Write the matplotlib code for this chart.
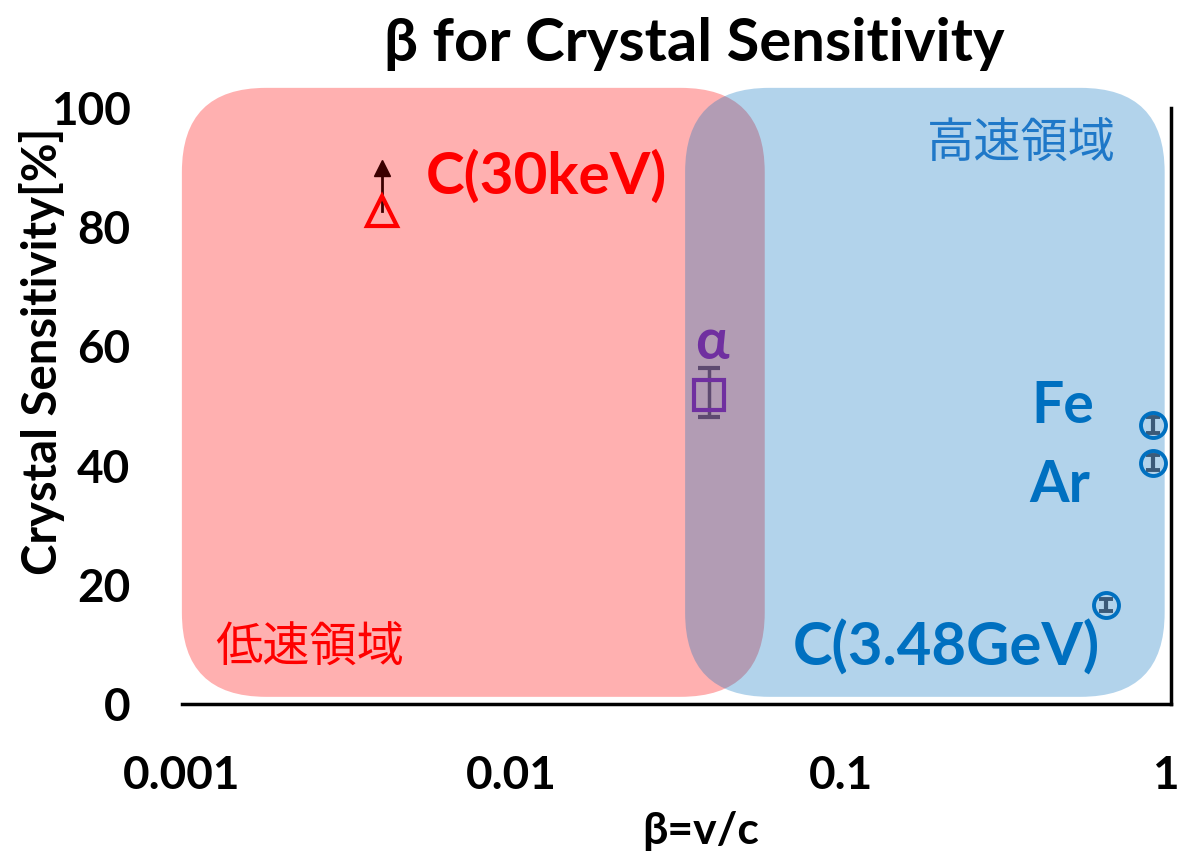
import numpy as np
import matplotlib
matplotlib.use('Agg')
import matplotlib.pyplot as plt
import matplotlib.transforms as mtransforms
from matplotlib.patches import FancyBboxPatch

plt.rcParams['font.family'] = ['Lato', 'Noto Sans CJK JP', 'DejaVu Sans']
FONT_SIZE = 33

# data
c30_beta = [0.00404]
c30_sens = [82.8]
c30_limit = [90.0]
alpha_beta = [0.0397]
alpha_sens = [51.8]
alpha_err = [[3.6], [4.6]]
fe_beta = [0.881]
fe_sens = [46.8]
ar_beta = [0.881]
ar_sens = [40.5]
heavy_err = [1.3]
c348_beta = [0.635]
c348_sens = [16.6]
c348_err = [1.0]

# speed regions (beta range, sensitivity range)
low_region = [0.001, 0.0586, 1.2, 103.4]
high_region = [0.0336, 0.957, 1.2, 103.4]

x_ticks = [0.001, 0.01, 0.1, 1]
x_tick_labels = ['0.001', '0.01', '0.1', '1']
y_ticks = [0, 20, 40, 60, 80, 100]

fig = plt.figure(figsize=(11.81, 8.58), dpi=100)
ax = fig.add_axes([0.154, 0.1795, 0.8375, 0.6945])
ax.set_xscale('log')
ax.set_xlim(0.001, 1)
ax.set_ylim(0, 100)


def region(ax, r, color, alpha):
    to_axes = ax.transData + ax.transAxes.inverted()
    (x0, y0), (x1, y1) = to_axes.transform([(r[0], r[2]), (r[1], r[3])])
    bb = ax.get_window_extent()
    aspect = bb.width / bb.height
    p = FancyBboxPatch((x0, y0), x1 - x0, y1 - y0,
                       boxstyle='round,pad=0,rounding_size=0.085',
                       mutation_aspect=aspect, transform=ax.transAxes,
                       facecolor=color, alpha=alpha, edgecolor='none',
                       clip_on=False, zorder=1)
    ax.add_patch(p)


region(ax, low_region, '#ff0000', 0.31)
region(ax, high_region, '#0070c0', 0.30)

# C(30keV) lower limit
ax.plot([c30_beta[0], c30_beta[0]], [c30_sens[0], c30_limit[0] - 1], color='#3b0000', lw=2, zorder=3)
ax.plot(c30_beta, c30_limit, '^', color='#3b0000', ms=11, zorder=3)
ax.plot(c30_beta, c30_sens, '^', mfc='none', mec='#ff0000', mew=3, ms=21, zorder=4)

# alpha
ax.errorbar(alpha_beta, alpha_sens, yerr=alpha_err, fmt='s', mfc='none', mec='#7030a0',
            mew=3, ms=21, ecolor='#5e4a70', elinewidth=2.5, capsize=8, capthick=2.5, zorder=4)

# heavy ions
for b, s, e in [(fe_beta, fe_sens, heavy_err), (ar_beta, ar_sens, heavy_err),
                (c348_beta, c348_sens, c348_err)]:
    ax.errorbar(b, s, yerr=e, fmt='o', mfc='none', mec='#0070c0', mew=2.8, ms=18,
                ecolor='#3b5a78', elinewidth=3, capsize=5, capthick=3, zorder=4)

ax.text(0.0055, 88.5, 'C(30keV)', color='#ff0000', fontsize=42, fontweight='bold', va='center', zorder=5)
ax.text(0.0405, 60.5, 'α', color='#7030a0', fontsize=40, fontweight='bold', ha='center', va='center', zorder=5)
ax.text(0.47, 50, 'Fe', color='#0070c0', fontsize=41, fontweight='bold', ha='center', va='center', zorder=5)
ax.text(0.46, 36.6, 'Ar', color='#0070c0', fontsize=41, fontweight='bold', ha='center', va='center', zorder=5)
ax.text(0.209, 9.5, 'C(3.48GeV)', color='#0070c0', fontsize=43, fontweight='bold', ha='center', va='center', zorder=5)
ax.text(0.351, 94, '高速領域', color='#1f78c8', fontsize=34, ha='center', va='center', zorder=5)
ax.text(0.00244, 9.5, '低速領域', color='#ff0000', fontsize=34, ha='center', va='center', zorder=5)

ax.set_xticks(x_ticks)
ax.set_xticklabels(x_tick_labels)
ax.set_yticks(y_ticks)
ax.minorticks_off()
ax.tick_params(axis='both', length=0, labelsize=FONT_SIZE)
ax.tick_params(axis='x', pad=37)
ax.tick_params(axis='y', pad=37)
for lab in ax.get_xticklabels() + ax.get_yticklabels():
    lab.set_fontweight('bold')
# nudge the last x label so it stays inside the figure
last = ax.get_xticklabels()[-1]
last.set_transform(last.get_transform() + mtransforms.ScaledTranslation(-4 / 72, 0, fig.dpi_scale_trans))

ax.spines['top'].set_visible(False)
ax.spines['left'].set_visible(False)
ax.spines['bottom'].set_linewidth(2.5)
ax.spines['right'].set_linewidth(2.5)

ax.set_title('β for Crystal Sensitivity', fontsize=43, fontweight='bold', pad=34, x=0.518)
ax.set_xlabel('β=v/c', fontsize=32, fontweight='bold')
ax.xaxis.set_label_coords(0.525, -0.18)
ax.set_ylabel('Crystal Sensitivity[%]', fontsize=34, fontweight='bold')
ax.yaxis.set_label_coords(-0.118, 0.592)

fig.savefig('out.png', dpi=100)
